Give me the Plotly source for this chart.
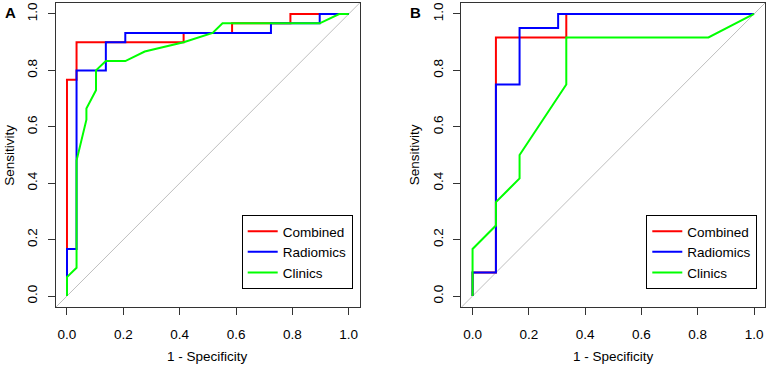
import plotly.graph_objects as go

W, H = 768, 367

# ---------------- data ----------------
series_names = ["Combined", "Radiomics", "Clinics"]
series_colors = ["#FF0000", "#0000FF", "#00FF00"]

# Panel A
a_combined_x = [0, 0, 0.034, 0.034, 0.414, 0.414, 0.586, 0.586, 0.793, 0.793, 1]
a_combined_y = [0, 0.767, 0.767, 0.9, 0.9, 0.933, 0.933, 0.967, 0.967, 1, 1]
a_radiomics_x = [0, 0, 0.034, 0.034, 0.138, 0.138, 0.207, 0.207, 0.724, 0.724, 0.897, 0.897, 1]
a_radiomics_y = [0, 0.167, 0.167, 0.8, 0.8, 0.9, 0.9, 0.933, 0.933, 0.967, 0.967, 1, 1]
a_clinics_x = [0, 0, 0.034, 0.034, 0.069, 0.069, 0.103, 0.103, 0.138, 0.207, 0.276, 0.414, 0.517, 0.552, 0.897, 0.966, 1]
a_clinics_y = [0, 0.067, 0.1, 0.48, 0.625, 0.665, 0.73, 0.8, 0.833, 0.833, 0.867, 0.9, 0.933, 0.967, 0.967, 1, 1]

# Panel B
b_combined_x = [0, 0, 0.083, 0.083, 0.333, 0.333, 1]
b_combined_y = [0, 0.083, 0.083, 0.917, 0.917, 1, 1]
b_radiomics_x = [0, 0, 0.083, 0.083, 0.167, 0.167, 0.304, 0.304, 1]
b_radiomics_y = [0, 0.083, 0.083, 0.75, 0.75, 0.95, 0.95, 1, 1]
b_clinics_x = [0, 0, 0.083, 0.083, 0.167, 0.167, 0.333, 0.333, 0.838, 1]
b_clinics_y = [0, 0.167, 0.25, 0.333, 0.417, 0.5, 0.75, 0.917, 0.917, 1]

diag_x = [-0.04, 1.04]
diag_y = [-0.04, 1.04]

tick_vals = [0, 0.2, 0.4, 0.6, 0.8, 1.0]
tick_text = ["0.0", "0.2", "0.4", "0.6", "0.8", "1.0"]
x_title = "1 - Specificity"
y_title = "Sensitivity"
panel_labels = ["A", "B"]

FONT = "Liberation Sans, Arial, sans-serif"

fig = go.Figure()

panels = [
    ("x", "y", "legend", [(a_combined_x, a_combined_y), (a_radiomics_x, a_radiomics_y), (a_clinics_x, a_clinics_y)]),
    ("x2", "y2", "legend2", [(b_combined_x, b_combined_y), (b_radiomics_x, b_radiomics_y), (b_clinics_x, b_clinics_y)]),
]

for xa, ya, lg, curves in panels:
    fig.add_trace(go.Scatter(x=diag_x, y=diag_y, mode="lines", xaxis=xa, yaxis=ya,
                             line=dict(color="#BEBEBE", width=1), showlegend=False, hoverinfo="skip"))
    for (cx, cy), name, col in zip(curves, series_names, series_colors):
        fig.add_trace(go.Scatter(x=cx, y=cy, mode="lines", name=name, xaxis=xa, yaxis=ya,
                                 line=dict(color=col, width=2), legend=lg))

def px2paper_x(px):
    return px / W

def px2paper_y(py):
    return 1 - py / H

# plot box pixels
top, bottom = 2.7, 307.3
boxes = [(55.7, 360.0), (461.3, 765.3)]

axis_common = dict(range=[-0.04, 1.04], tickvals=tick_vals, ticktext=tick_text,
                   showgrid=False, zeroline=False, showline=True, mirror=True,
                   linecolor="#333333", linewidth=1.2, ticks="outside", ticklen=7,
                   tickwidth=1, tickcolor="#333333",
                   tickfont=dict(family=FONT, size=13.5, color="black"))

layout = dict(
    width=W, height=H, margin=dict(l=0, r=0, t=0, b=0),
    paper_bgcolor="white", plot_bgcolor="white", showlegend=True,
    font=dict(family=FONT, size=13, color="black"),
)
for i, (l, r) in enumerate(boxes):
    sfx = "" if i == 0 else str(i + 1)
    layout["xaxis" + sfx] = dict(axis_common, domain=[px2paper_x(l), px2paper_x(r)],
                                 anchor="y" + sfx, ticklabelstandoff=7)
    layout["yaxis" + sfx] = dict(axis_common, domain=[px2paper_y(bottom), px2paper_y(top)],
                                 anchor="x" + sfx, tickangle=-90, ticklabelstandoff=5)

legend_right = [352.7, 757.3]
for i, lr in enumerate(legend_right):
    key = "legend" if i == 0 else "legend2"
    layout[key] = dict(x=px2paper_x(lr), y=px2paper_y(289), xanchor="right", yanchor="bottom",
                       bordercolor="black", borderwidth=1, bgcolor="white",
                       font=dict(family=FONT, size=13.5, color="black"), itemwidth=30,
                       tracegroupgap=0)

fig.update_layout(**layout)

annotations = []
for i, (l, r) in enumerate(boxes):
    cx = (l + r) / 2
    annotations.append(dict(text=x_title, x=px2paper_x(cx), y=px2paper_y(356), xref="paper", yref="paper",
                            showarrow=False, xanchor="center", yanchor="middle",
                            font=dict(family=FONT, size=13.5, color="black")))
    annotations.append(dict(text=y_title, x=px2paper_x(l - 47), y=px2paper_y(155), xref="paper", yref="paper",
                            showarrow=False, xanchor="center", yanchor="middle", textangle=-90,
                            font=dict(family=FONT, size=13.5, color="black")))
    annotations.append(dict(text="<b>%s</b>" % panel_labels[i], x=px2paper_x(l - 45.5), y=px2paper_y(13),
                            xref="paper", yref="paper", showarrow=False, xanchor="center", yanchor="middle",
                            font=dict(family=FONT, size=15, color="black")))
fig.update_layout(annotations=annotations)

fig.write_html("out.html", config={"displayModeBar": False},
               post_script="document.body.style.margin='0';document.body.style.overflow='hidden';")
